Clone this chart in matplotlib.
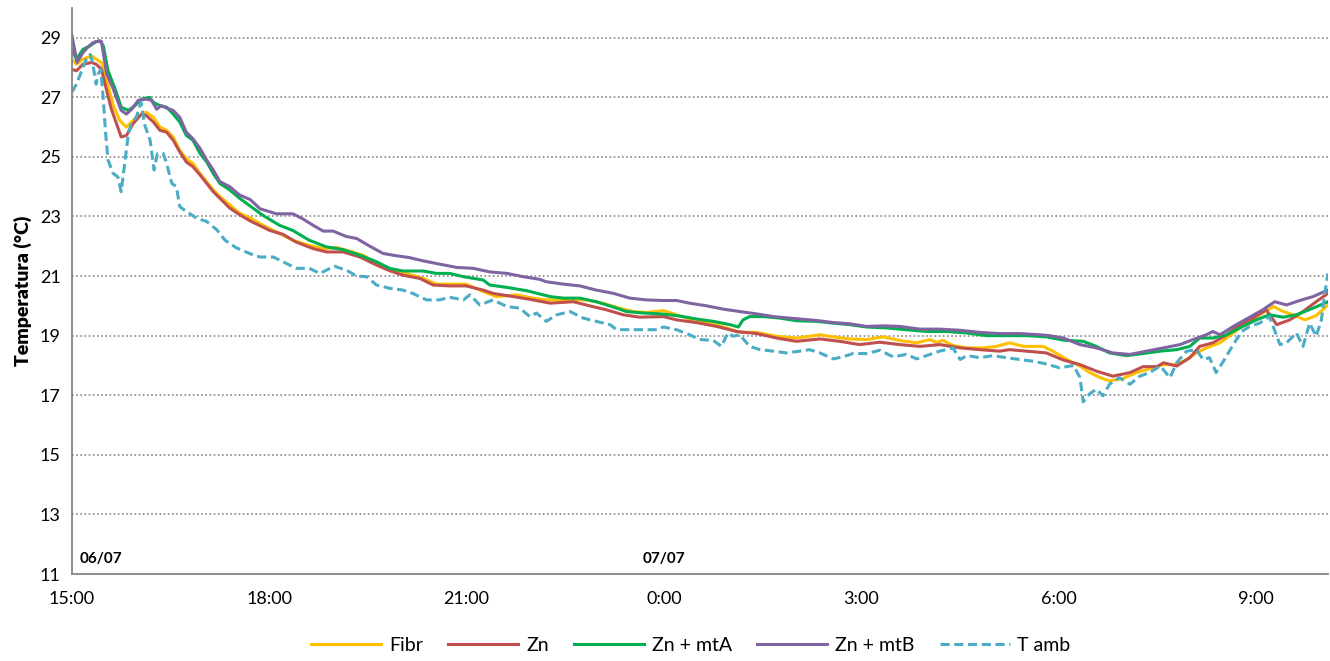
import matplotlib
matplotlib.use("Agg")
import matplotlib.pyplot as plt
# Temperature log 06/07 15:00 -> 07/07 ~10:00, time in hours since 15:00

hour_ticks = [0, 3, 6, 9, 12, 15, 18]
hour_labels = ["15:00", "18:00", "21:00", "0:00", "3:00", "6:00", "9:00"]
temp_ticks = [11, 13, 15, 17, 19, 21, 23, 25, 27, 29]

fibr_t = [0, 0.07, 0.17, 0.3, 0.37, 0.45, 0.53, 0.63, 0.73, 0.83, 0.93, 1.03, 1.13, 1.24, 1.34, 1.44, 1.54,
          1.64, 1.74, 1.84, 1.95, 2.05, 2.15, 2.25, 2.4, 2.55, 2.71, 2.91, 3.11, 3.36, 3.61, 3.82, 4.02, 4.17,
          4.43, 4.63, 4.83, 5.08, 5.34, 5.54, 5.74, 5.99, 6.25, 6.45, 6.76, 7.01, 7.21, 7.47, 7.82, 8.07, 8.33,
          8.53, 8.73, 8.99, 9.19, 9.44, 9.7, 9.95, 10.15, 10.41, 10.71, 11.01, 11.37, 11.57, 11.82, 12.08, 12.33,
          12.58, 12.84, 13.04, 13.14, 13.24, 13.39, 13.6, 13.85, 14.05, 14.25, 14.46, 14.76, 14.91, 15.12, 15.32,
          15.47, 15.62, 15.77, 15.97, 16.18, 16.38, 16.59, 16.79, 16.94, 17.09, 17.24, 17.45, 17.65, 17.85, 18.05,
          18.26, 18.41, 18.56, 18.74, 18.91, 19.09]
fibr_v = [28.28, 28.11, 28.28, 28.39, 28.28, 28.17, 27.56, 26.72, 26.22, 26.0, 26.22, 26.39, 26.5, 26.33, 26.0,
          25.89, 25.67, 25.22, 24.94, 24.78, 24.44, 24.17, 23.89, 23.67, 23.39, 23.11, 22.95, 22.7, 22.48, 22.2,
          22.03, 21.92, 21.96, 21.87, 21.7, 21.42, 21.2, 21.09, 20.92, 20.73, 20.73, 20.73, 20.48, 20.31, 20.37,
          20.26, 20.2, 20.2, 20.2, 20.09, 19.92, 19.81, 19.78, 19.84, 19.7, 19.53, 19.42, 19.26, 19.11, 19.11,
          18.98, 18.92, 19.03, 18.96, 18.89, 18.87, 18.96, 18.84, 18.76, 18.87, 18.78, 18.84, 18.67, 18.59, 18.59,
          18.64, 18.76, 18.64, 18.64, 18.48, 18.2, 17.98, 17.76, 17.6, 17.48, 17.56, 17.76, 17.89, 18.03, 18.03,
          18.2, 18.42, 18.59, 18.76, 19.09, 19.42, 19.7, 19.98, 19.81, 19.7, 19.53, 19.67, 20.03]

zn_t = [0, 0.07, 0.17, 0.3, 0.37, 0.45, 0.53, 0.6, 0.68, 0.75, 0.83, 0.93, 1.06, 1.13, 1.24, 1.34, 1.44, 1.54,
        1.64, 1.74, 1.84, 1.95, 2.05, 2.15, 2.25, 2.4, 2.55, 2.71, 3.01, 3.21, 3.41, 3.67, 3.87, 4.12, 4.38, 4.63,
        4.83, 5.03, 5.29, 5.49, 5.74, 5.99, 6.25, 6.4, 6.71, 6.96, 7.27, 7.62, 7.87, 8.12, 8.38, 8.63, 8.99, 9.19,
        9.49, 9.8, 10.1, 10.41, 10.71, 11.01, 11.37, 11.67, 11.97, 12.28, 12.58, 12.89, 13.19, 13.5, 13.8, 14.1,
        14.25, 14.51, 14.81, 15.07, 15.32, 15.57, 15.82, 16.08, 16.28, 16.49, 16.59, 16.79, 16.99, 17.14, 17.34,
        17.55, 17.75, 17.95, 18.15, 18.31, 18.51, 18.71, 18.91, 19.09]
zn_v = [27.94, 27.89, 28.11, 28.17, 28.11, 27.94, 27.22, 26.61, 26.11, 25.67, 25.72, 26.11, 26.44, 26.39, 26.17,
        25.89, 25.83, 25.56, 25.17, 24.83, 24.67, 24.39, 24.11, 23.83, 23.61, 23.28, 23.06, 22.85, 22.53, 22.4,
        22.14, 21.92, 21.81, 21.81, 21.64, 21.37, 21.18, 21.03, 20.92, 20.7, 20.67, 20.67, 20.53, 20.42, 20.31,
        20.22, 20.09, 20.14, 20.0, 19.87, 19.7, 19.62, 19.64, 19.53, 19.44, 19.31, 19.14, 19.07, 18.92, 18.81,
        18.89, 18.81, 18.7, 18.78, 18.7, 18.64, 18.7, 18.59, 18.53, 18.48, 18.53, 18.48, 18.42, 18.18, 18.03,
        17.81, 17.64, 17.76, 17.96, 17.96, 18.09, 17.98, 18.26, 18.64, 18.76, 19.03, 19.37, 19.59, 19.87, 19.37,
        19.53, 19.81, 20.14, 20.42]

mta_t = [0, 0.07, 0.17, 0.27, 0.37, 0.43, 0.48, 0.55, 0.65, 0.75, 0.86, 0.96, 1.06, 1.18, 1.24, 1.34, 1.44, 1.54,
         1.64, 1.74, 1.84, 1.95, 2.05, 2.15, 2.25, 2.4, 2.55, 2.71, 2.91, 3.16, 3.36, 3.61, 3.87, 4.12, 4.38, 4.63,
         4.83, 5.03, 5.34, 5.54, 5.74, 5.95, 6.25, 6.35, 6.61, 6.91, 7.11, 7.27, 7.47, 7.72, 7.97, 8.23, 8.43, 8.68,
         8.94, 9.09, 9.29, 9.49, 9.75, 10.0, 10.13, 10.2, 10.3, 10.51, 10.76, 11.01, 11.32, 11.57, 11.82, 12.08,
         12.38, 12.68, 12.99, 13.29, 13.6, 13.9, 14.2, 14.51, 14.81, 15.07, 15.37, 15.57, 15.77, 16.03, 16.28,
         16.54, 16.79, 16.99, 17.14, 17.34, 17.55, 17.75, 18.0, 18.2, 18.41, 18.61, 18.86, 19.09]
mta_v = [28.6, 28.28, 28.61, 28.72, 28.87, 28.89, 28.72, 27.89, 27.33, 26.67, 26.56, 26.72, 26.94, 27.0, 26.83,
         26.72, 26.67, 26.44, 26.17, 25.72, 25.56, 25.11, 24.83, 24.44, 24.11, 23.89, 23.61, 23.35, 23.03, 22.7,
         22.53, 22.2, 21.98, 21.89, 21.7, 21.48, 21.26, 21.17, 21.17, 21.09, 21.09, 20.98, 20.87, 20.7, 20.62,
         20.51, 20.4, 20.31, 20.26, 20.26, 20.14, 19.96, 19.81, 19.76, 19.73, 19.7, 19.64, 19.56, 19.48, 19.37,
         19.29, 19.53, 19.64, 19.64, 19.59, 19.5, 19.48, 19.42, 19.37, 19.29, 19.26, 19.2, 19.14, 19.14, 19.09,
         19.0, 19.0, 19.0, 18.96, 18.85, 18.81, 18.64, 18.42, 18.33, 18.4, 18.48, 18.53, 18.64, 18.92, 18.92,
         19.03, 19.26, 19.53, 19.7, 19.62, 19.7, 19.92, 20.14]

mtb_t = [0, 0.08, 0.17, 0.25, 0.32, 0.42, 0.45, 0.53, 0.63, 0.75, 0.83, 0.91, 1.01, 1.13, 1.21, 1.29, 1.36, 1.44,
         1.54, 1.64, 1.74, 1.84, 1.95, 2.05, 2.15, 2.25, 2.4, 2.55, 2.71, 2.86, 3.11, 3.36, 3.51, 3.67, 3.82, 3.97,
         4.17, 4.33, 4.53, 4.73, 4.88, 5.13, 5.34, 5.59, 5.85, 6.1, 6.35, 6.61, 6.86, 7.11, 7.21, 7.47, 7.72, 7.97,
         8.23, 8.48, 8.73, 8.99, 9.19, 9.39, 9.65, 9.9, 10.15, 10.41, 10.66, 10.91, 11.06, 11.32, 11.57, 11.82,
         12.08, 12.33, 12.58, 12.89, 13.19, 13.5, 13.8, 14.1, 14.41, 14.71, 14.86, 15.07, 15.32, 15.57, 15.82,
         16.08, 16.33, 16.59, 16.84, 17.04, 17.24, 17.34, 17.45, 17.65, 17.9, 18.1, 18.28, 18.46, 18.66, 18.86,
         19.09]
mtb_v = [29.1, 28.17, 28.5, 28.7, 28.83, 28.9, 28.87, 27.78, 27.28, 26.56, 26.44, 26.6, 26.9, 26.94, 26.9, 26.6,
         26.72, 26.64, 26.56, 26.33, 25.83, 25.61, 25.28, 24.89, 24.56, 24.17, 24.0, 23.72, 23.57, 23.26, 23.09,
         23.09, 22.92, 22.7, 22.51, 22.51, 22.33, 22.26, 22.0, 21.76, 21.7, 21.62, 21.51, 21.4, 21.29, 21.26,
         21.14, 21.09, 20.98, 20.89, 20.81, 20.73, 20.67, 20.53, 20.42, 20.26, 20.2, 20.18, 20.18, 20.09, 20.0,
         19.89, 19.81, 19.73, 19.64, 19.59, 19.56, 19.51, 19.44, 19.4, 19.31, 19.33, 19.31, 19.22, 19.22, 19.18,
         19.11, 19.07, 19.07, 19.03, 19.0, 18.92, 18.7, 18.59, 18.42, 18.37, 18.48, 18.59, 18.7, 18.87, 19.03,
         19.14, 19.03, 19.31, 19.62, 19.87, 20.14, 20.03, 20.18, 20.31, 20.53]

tamb_t = [0, 0.07, 0.15, 0.22, 0.28, 0.32, 0.37, 0.4, 0.44, 0.48, 0.51, 0.55, 0.63, 0.7, 0.75, 0.81, 0.86, 0.91,
          0.98, 1.05, 1.11, 1.19, 1.25, 1.3, 1.39, 1.44, 1.52, 1.59, 1.64, 1.74, 1.9, 2.05, 2.2, 2.33, 2.5, 2.71,
          2.86, 3.06, 3.21, 3.41, 3.61, 3.77, 3.99, 4.17, 4.33, 4.48, 4.63, 4.83, 5.03, 5.18, 5.39, 5.59, 5.74,
          5.95, 6.05, 6.2, 6.4, 6.61, 6.81, 6.96, 7.06, 7.21, 7.37, 7.57, 7.77, 7.97, 8.18, 8.28, 8.48, 8.68, 8.89,
          8.99, 9.19, 9.39, 9.54, 9.75, 9.87, 9.97, 10.05, 10.15, 10.3, 10.46, 10.66, 10.86, 11.06, 11.21, 11.37,
          11.57, 11.72, 11.87, 12.08, 12.28, 12.48, 12.68, 12.84, 12.99, 13.19, 13.39, 13.5, 13.6, 13.8, 14.0,
          14.2, 14.41, 14.61, 14.81, 15.01, 15.22, 15.32, 15.37, 15.47, 15.57, 15.67, 15.77, 15.92, 16.08, 16.23,
          16.38, 16.54, 16.69, 16.79, 16.94, 17.09, 17.19, 17.29, 17.39, 17.5, 17.65, 17.78, 17.9, 18.05, 18.2,
          18.36, 18.46, 18.61, 18.71, 18.81, 18.91, 18.99, 19.04, 19.09]
tamb_v = [27.17, 27.44, 27.89, 28.28, 28.44, 28.11, 27.44, 27.78, 27.94, 26.89, 25.89, 24.89, 24.44, 24.33,
          23.83, 24.89, 25.78, 26.17, 26.33, 26.83, 26.06, 25.56, 24.56, 25.11, 25.11, 24.78, 24.11, 24.0, 23.33,
          23.17, 22.94, 22.83, 22.56, 22.2, 21.95, 21.75, 21.64, 21.64, 21.48, 21.26, 21.26, 21.09, 21.33, 21.2,
          21.0, 20.98, 20.7, 20.59, 20.53, 20.42, 20.2, 20.2, 20.29, 20.2, 20.37, 20.03, 20.2, 19.98, 19.92, 19.64,
          19.76, 19.48, 19.7, 19.81, 19.59, 19.48, 19.37, 19.2, 19.2, 19.2, 19.2, 19.29, 19.2, 19.03, 18.87, 18.84,
          18.64, 19.09, 18.98, 19.03, 18.64, 18.53, 18.48, 18.42, 18.48, 18.53, 18.42, 18.22, 18.29, 18.4, 18.4,
          18.51, 18.29, 18.37, 18.22, 18.33, 18.48, 18.59, 18.2, 18.33, 18.26, 18.33, 18.26, 18.2, 18.14, 18.05,
          17.92, 18.0, 17.6, 16.78, 17.05, 17.2, 16.98, 17.37, 17.59, 17.37, 17.64, 17.76, 17.98, 17.59, 18.09,
          18.48, 18.53, 18.2, 18.26, 17.76, 18.14, 18.7, 19.14, 19.31, 19.42, 19.64, 18.7, 18.76, 19.09, 18.64,
          19.42, 18.98, 19.53, 20.42, 21.09]


def main():
    plt.rcParams['font.family'] = ['Lato', 'DejaVu Sans']
    fig = plt.figure(figsize=(13.3, 6.61), dpi=100)
    ax = fig.add_axes([0.054, 0.1316, 0.9445, 0.8564])

    lw = 2.2
    ax.plot(fibr_t, fibr_v, color="#FFC000", lw=lw, label="Fibr")
    ax.plot(zn_t, zn_v, color="#C0504D", lw=lw, label="Zn")
    ax.plot(mta_t, mta_v, color="#00B050", lw=lw, label="Zn + mtA")
    ax.plot(mtb_t, mtb_v, color="#8064A2", lw=lw, label="Zn + mtB")
    ax.plot(tamb_t, tamb_v, color="#4BACC6", lw=lw, ls=(0, (3, 1.5)), label="T amb")

    ax.set_xlim(0, 19.09)
    ax.set_ylim(11, 30)
    ax.set_xticks(hour_ticks)
    ax.set_xticklabels(hour_labels)
    ax.set_yticks(temp_ticks)
    ax.tick_params(length=0, labelsize=13, pad=8)
    ax.tick_params(axis='x', pad=12)

    for y in temp_ticks[1:]:
        ax.axhline(y, color="#868686", lw=1.2, ls=(0, (1, 1.5)), zorder=0)

    for s in ["top", "right"]:
        ax.spines[s].set_visible(False)
    for s in ["left", "bottom"]:
        ax.spines[s].set_color("#868686")
        ax.spines[s].set_linewidth(1.3)

    ax.set_ylabel("Temperatura (°C)", fontsize=14, fontweight="heavy", labelpad=6)

    ax.text(0.12, 11.5, "06/07", fontsize=11, fontweight="bold", ha="left", va="center")
    ax.text(9.0, 11.5, "07/07", fontsize=11, fontweight="bold", ha="center", va="center")

    fig.legend(loc="center", bbox_to_anchor=(691 / 1330, 0.023), ncol=5, frameon=False,
               fontsize=14, handlelength=3.6, columnspacing=1.3, handletextpad=0.4)

    fig.savefig("out.png", dpi=100)


if __name__ == "__main__":
    main()
